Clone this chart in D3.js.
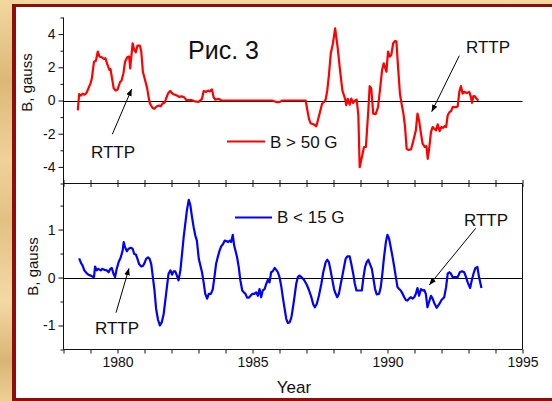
<!DOCTYPE html>
<html><head><meta charset="utf-8">
<script src="https://cdn.jsdelivr.net/npm/d3@7/dist/d3.min.js"></script>
<style>
html,body{margin:0;padding:0;background:#e6c88c;}
svg{display:block;font-family:"Liberation Sans",Arial,sans-serif;}
</style></head>
<body>
<svg id="chart" width="552" height="401"></svg>
<script>
// ---------- DATA ----------
const upperYears = [1978.53,1978.58,1978.65,1978.7,1978.78,1978.85,1979.0,1979.05,1979.13,1979.2,1979.27,1979.33,1979.42,1979.5,1979.55,1979.63,1979.7,1979.74,1979.8,1979.86,1979.93,1980.0,1980.1,1980.15,1980.22,1980.28,1980.36,1980.43,1980.47,1980.51,1980.56,1980.62,1980.68,1980.74,1980.83,1980.88,1980.94,1981.02,1981.1,1981.15,1981.2,1981.3,1981.36,1981.45,1981.54,1981.6,1981.67,1981.75,1981.8,1981.87,1981.95,1982.03,1982.1,1982.2,1982.28,1982.37,1982.47,1982.55,1982.75,1982.87,1983.0,1983.13,1983.19,1983.28,1983.35,1983.42,1983.5,1983.56,1983.62,1983.75,1983.85,1985.73,1985.9,1986.0,1986.1,1986.97,1987.02,1987.09,1987.15,1987.28,1987.36,1987.42,1987.5,1987.58,1987.65,1987.71,1987.77,1987.83,1987.9,1987.98,1988.06,1988.15,1988.24,1988.33,1988.43,1988.47,1988.53,1988.6,1988.66,1988.72,1988.79,1988.86,1988.92,1988.97,1989.05,1989.13,1989.2,1989.29,1989.34,1989.4,1989.47,1989.56,1989.65,1989.72,1989.8,1989.86,1989.92,1989.96,1990.02,1990.08,1990.14,1990.21,1990.28,1990.33,1990.39,1990.46,1990.52,1990.59,1990.65,1990.71,1990.77,1990.87,1990.93,1990.99,1991.05,1991.11,1991.17,1991.24,1991.3,1991.38,1991.44,1991.49,1991.55,1991.61,1991.67,1991.74,1991.8,1991.86,1991.93,1991.99,1992.05,1992.11,1992.17,1992.23,1992.3,1992.36,1992.41,1992.54,1992.6,1992.66,1992.72,1992.78,1992.84,1992.94,1993.03,1993.09,1993.13,1993.18,1993.24,1993.3,1993.37];
const upperValues = [-0.59,0.38,0.3,0.4,0.35,0.45,1.03,1.33,2.34,2.4,2.95,2.65,2.6,2.5,2.55,2.14,1.84,1.9,1.3,0.73,0.6,0.65,1.13,1.2,1.64,2.34,2.6,2.65,1.94,2.6,3.45,3.05,2.9,3.31,3.3,2.95,1.73,1.23,0.73,0.22,-0.18,-0.45,-0.5,-0.36,-0.3,-0.35,-0.18,-0.12,0.12,0.42,0.57,0.42,0.36,0.3,0.22,0.25,0.2,0.02,0.02,-0.05,-0.08,0.1,0.57,0.52,0.6,0.55,0.67,0.2,0.05,0.1,0.0,0.0,-0.1,-0.1,0.0,0.0,-0.48,-1.09,-1.37,-1.45,-1.56,-1.2,-0.69,-0.18,-0.09,0.05,0.62,1.53,2.85,3.45,4.34,3.25,1.84,0.6,0.1,-0.28,0.1,-0.25,0.12,-0.15,0.0,0.05,-0.89,-4.02,-3.42,-2.8,-2.8,-0.59,0.87,0.72,-0.79,-0.82,-0.4,0.62,1.84,2.24,1.94,1.73,2.95,2.64,2.74,3.45,3.59,3.55,2.04,0.42,-0.18,-0.79,-1.6,-2.91,-2.97,-2.95,-2.6,-2.2,-1.8,-0.79,-1.2,-2.0,-2.6,-2.8,-2.75,-3.52,-2.8,-1.9,-1.6,-1.7,-1.8,-1.44,-1.85,-1.6,-1.65,-1.55,-1.6,-0.89,-0.69,-0.63,-0.4,-0.4,-0.36,0.52,0.87,0.42,0.52,0.45,0.52,0.2,-0.14,0.26,0.25,0.1,0.0];

const lowerYears = [1978.58,1978.65,1978.71,1978.77,1978.86,1978.92,1979.01,1979.07,1979.13,1979.17,1979.23,1979.29,1979.38,1979.44,1979.52,1979.6,1979.67,1979.73,1979.79,1979.85,1979.91,1979.97,1980.04,1980.12,1980.19,1980.23,1980.28,1980.35,1980.41,1980.49,1980.56,1980.62,1980.68,1980.74,1980.8,1980.88,1980.94,1981.0,1981.06,1981.13,1981.19,1981.25,1981.31,1981.37,1981.43,1981.5,1981.57,1981.64,1981.71,1981.77,1981.83,1981.89,1981.96,1982.02,1982.08,1982.14,1982.2,1982.26,1982.33,1982.39,1982.45,1982.51,1982.57,1982.64,1982.7,1982.76,1982.82,1982.88,1982.94,1983.01,1983.07,1983.13,1983.19,1983.25,1983.32,1983.38,1983.46,1983.53,1983.59,1983.65,1983.71,1983.78,1983.84,1983.91,1983.97,1984.03,1984.1,1984.16,1984.21,1984.27,1984.32,1984.37,1984.43,1984.49,1984.55,1984.62,1984.68,1984.74,1984.8,1984.86,1984.93,1984.99,1985.07,1985.14,1985.2,1985.26,1985.32,1985.38,1985.45,1985.51,1985.57,1985.63,1985.69,1985.75,1985.82,1985.88,1985.94,1986.0,1986.07,1986.13,1986.19,1986.25,1986.31,1986.38,1986.44,1986.5,1986.56,1986.62,1986.68,1986.74,1986.81,1986.91,1987.01,1987.09,1987.18,1987.25,1987.31,1987.38,1987.46,1987.55,1987.62,1987.71,1987.77,1987.83,1987.89,1987.96,1988.02,1988.08,1988.14,1988.2,1988.27,1988.33,1988.39,1988.45,1988.51,1988.6,1988.66,1988.73,1988.79,1988.85,1988.95,1989.05,1989.11,1989.17,1989.23,1989.29,1989.35,1989.42,1989.48,1989.54,1989.6,1989.69,1989.75,1989.81,1989.87,1989.94,1990.0,1990.06,1990.12,1990.19,1990.25,1990.31,1990.37,1990.43,1990.49,1990.56,1990.62,1990.68,1990.74,1990.8,1990.86,1990.93,1990.99,1991.05,1991.11,1991.17,1991.24,1991.3,1991.36,1991.42,1991.48,1991.55,1991.61,1991.67,1991.73,1991.82,1991.92,1992.0,1992.1,1992.17,1992.23,1992.29,1992.35,1992.41,1992.5,1992.6,1992.68,1992.76,1992.84,1992.91,1992.97,1993.06,1993.12,1993.19,1993.26,1993.33,1993.39,1993.48];
const lowerValues = [0.4,0.3,0.25,0.15,0.09,0.06,0.04,0.02,0.01,0.23,0.15,0.18,0.15,0.18,0.16,0.15,0.11,0.18,0.2,0.08,0.01,0.18,0.32,0.42,0.56,0.74,0.63,0.55,0.6,0.62,0.6,0.49,0.48,0.39,0.28,0.23,0.24,0.3,0.39,0.42,0.39,0.28,0.01,-0.27,-0.65,-0.88,-1.0,-0.93,-0.76,-0.48,-0.2,0.08,0.15,0.06,0.13,0.13,0.04,-0.06,0.15,0.49,0.84,1.12,1.4,1.62,1.5,1.26,1.05,0.88,0.77,0.39,0.25,0.11,-0.1,-0.34,-0.44,-0.34,-0.34,-0.24,0.01,0.28,0.42,0.56,0.65,0.7,0.77,0.76,0.74,0.77,0.74,0.89,0.67,0.56,0.42,0.22,-0.06,-0.27,-0.31,-0.34,-0.42,-0.42,-0.38,-0.34,-0.34,-0.31,-0.38,-0.24,-0.41,-0.27,-0.24,-0.13,-0.05,-0.1,0.11,0.13,0.2,0.16,0.11,0.01,-0.2,-0.44,-0.65,-0.86,-0.95,-0.93,-0.83,-0.62,-0.38,-0.13,0.01,0.04,0.01,-0.05,-0.15,-0.26,-0.41,-0.56,-0.62,-0.55,-0.38,-0.13,0.11,0.32,0.37,0.32,0.15,-0.06,-0.24,-0.34,-0.41,-0.34,-0.13,0.04,0.22,0.39,0.44,0.44,0.28,0.08,-0.13,-0.27,-0.27,-0.27,0.01,0.22,0.32,0.37,0.28,0.18,-0.03,-0.24,-0.35,-0.34,-0.2,0.08,0.42,0.74,0.89,0.81,0.63,0.42,0.22,0.01,-0.2,-0.24,-0.27,-0.34,-0.41,-0.47,-0.48,-0.44,-0.41,-0.44,-0.41,-0.34,-0.22,-0.38,-0.24,-0.27,-0.26,-0.34,-0.62,-0.49,-0.38,-0.44,-0.53,-0.63,-0.55,-0.47,-0.41,-0.2,0.08,0.11,0.08,0.01,0.01,0.01,0.11,0.13,0.11,0.01,-0.1,-0.22,-0.06,0.09,0.2,0.22,0.01,-0.22];

const xMajorTicks = [1980,1985,1990,1995];
const upperYTicks = [-4,-2,0,2,4];
const upperYMinor = [-5,-3,-1,1,3,5];
const lowerYTicks = [-1,0,1];
const lowerYMinor = [-1.5,-0.5,0.5,1.5];
const upperLegend = "B > 50 G";
const lowerLegend = "B < 15 G";
const yLabel = "B, gauss";
const xLabel = "Year";
const title = "Рис. 3";
const noteLabel = "RTTP";

// ---------- LAYOUT ----------
const svg = d3.select("#chart");
const L = 63.5, R = 522.5;
const uTop = 17.5, mid = 183.5, lBot = 349.5;

// background texture (decorative)
const defs = svg.append("defs");
const g1 = defs.append("linearGradient").attr("id","tex").attr("x1",0).attr("y1",0).attr("x2",0).attr("y2",1);
[["0%","#f0d8a0"],["20%","#dcb877"],["40%","#efd29a"],["55%","#e2c183"],["75%","#f2d9a4"],["90%","#d9b574"],["100%","#ecd096"]]
  .forEach(s=>g1.append("stop").attr("offset",s[0]).attr("stop-color",s[1]));
svg.append("rect").attr("width",552).attr("height",401).attr("fill","url(#tex)");
svg.append("rect").attr("x",12).attr("y",4).attr("width",545).attr("height",400).attr("fill","#8e0d0d");
svg.append("rect").attr("x",16).attr("y",7).attr("width",540).attr("height",391).attr("fill","#ffffff");

const x = d3.scaleLinear().domain([1978,1995]).range([L,R]);
const yU = d3.scaleLinear().domain([-5,5]).range([mid, uTop]);
const yL = d3.scaleLinear().domain([-1.5,1.96]).range([lBot, mid]);

const years = d3.range(1978,1996);
const ink = "#111";

function yAxis(scale, major, minor, fmt){
  const gm = svg.append("g").attr("transform",`translate(${L},0)`)
    .call(d3.axisLeft(scale).tickValues(major).tickSize(5).tickSizeOuter(0).tickPadding(3).tickFormat(fmt));
  gm.select(".domain").remove();
  gm.selectAll("text").attr("font-size",14).attr("fill",ink).attr("font-family","Liberation Sans, Arial, sans-serif");
  gm.selectAll("line").attr("stroke",ink);
  const gn = svg.append("g").attr("transform",`translate(${L},0)`)
    .call(d3.axisLeft(scale).tickValues(minor).tickSize(3).tickFormat(""));
  gn.select(".domain").remove();
  gn.selectAll("line").attr("stroke",ink);
}
const fmtInt = d => d3.format("d")(d).replace("−","-");
yAxis(yU, upperYTicks, upperYMinor, fmtInt);
yAxis(yL, lowerYTicks, lowerYMinor, fmtInt);

// spines
svg.append("line").attr("x1",L).attr("x2",L).attr("y1",uTop).attr("y2",lBot).attr("stroke",ink);
svg.append("line").attr("x1",L).attr("x2",R).attr("y1",mid).attr("y2",mid).attr("stroke",ink);
svg.append("line").attr("x1",L).attr("x2",R).attr("y1",lBot).attr("y2",lBot).attr("stroke",ink);
svg.append("line").attr("x1",R).attr("x2",R).attr("y1",mid).attr("y2",lBot).attr("stroke",ink);

// x ticks: middle line both directions, bottom outward with labels
const gMidDown = svg.append("g").attr("transform",`translate(0,${mid})`)
  .call(d3.axisBottom(x).tickValues(years).tickSize(3.5).tickFormat(""));
gMidDown.select(".domain").remove();
const gMidUp = svg.append("g").attr("transform",`translate(0,${mid})`)
  .call(d3.axisTop(x).tickValues(years).tickSize(3.5).tickFormat(""));
gMidUp.select(".domain").remove();
const gBot = svg.append("g").attr("transform",`translate(0,${lBot})`)
  .call(d3.axisBottom(x).tickValues(years).tickSize(4).tickPadding(4)
  .tickFormat(d => xMajorTicks.includes(d) ? d3.format("d")(d) : ""));
gBot.select(".domain").remove();
gBot.selectAll("text").attr("font-size",14).attr("fill",ink).attr("font-family","Liberation Sans, Arial, sans-serif");
svg.selectAll(".tick line").attr("stroke",ink);

// zero lines
svg.append("line").attr("x1",L).attr("x2",R).attr("y1",Math.round(yU(0))+0.5).attr("y2",Math.round(yU(0))+0.5).attr("stroke","#000");
svg.append("line").attr("x1",L).attr("x2",R).attr("y1",Math.round(yL(0))+0.5).attr("y2",Math.round(yL(0))+0.5).attr("stroke","#000");

// series
const upperData = upperYears.map((t,i)=>[t,upperValues[i]]);
const lowerData = lowerYears.map((t,i)=>[t,lowerValues[i]]);
svg.append("path").datum(upperData).attr("fill","none").attr("stroke","#ff0000").attr("stroke-width",2.2)
  .attr("stroke-linejoin","round").attr("d",d3.line().x(d=>x(d[0])).y(d=>yU(d[1])));
svg.append("path").datum(lowerData).attr("fill","none").attr("stroke","#0000ff").attr("stroke-width",2.2)
  .attr("stroke-linejoin","round").attr("d",d3.line().x(d=>x(d[0])).y(d=>yL(d[1])));

// text
const txt = (s,xp,yp,size,anchor="start") => svg.append("text").attr("x",xp).attr("y",yp)
  .attr("font-size",size).attr("fill",ink).attr("text-anchor",anchor).text(s);
txt(title,188,59,25);
txt(xLabel,294,393,17,"middle");
svg.append("text").attr("transform","translate(32,82.5) rotate(-90)").attr("text-anchor","middle")
  .attr("font-size",15).attr("fill",ink).text(yLabel);
svg.append("text").attr("transform","translate(38,266.5) rotate(-90)").attr("text-anchor","middle")
  .attr("font-size",15).attr("fill",ink).text(yLabel);

// legends
svg.append("line").attr("x1",227).attr("x2",265).attr("y1",141.5).attr("y2",141.5).attr("stroke","#ff0000").attr("stroke-width",2.2);
txt(upperLegend,270,147.5,17);
svg.append("line").attr("x1",235).attr("x2",272).attr("y1",217.5).attr("y2",217.5).attr("stroke","#0000ff").attr("stroke-width",2.2);
txt(lowerLegend,277,222.5,17);

// RTTP notes with arrows
defs.append("marker").attr("id","ah").attr("viewBox","0 0 10 10").attr("refX",10).attr("refY",5)
  .attr("markerWidth",7).attr("markerHeight",7).attr("markerUnits","userSpaceOnUse").attr("orient","auto")
  .append("path").attr("d","M0,1 L10,5 L0,9 Z").attr("fill","#000");
const arrow = (x1,y1,x2,y2) => svg.append("line").attr("x1",x1).attr("y1",y1).attr("x2",x2).attr("y2",y2)
  .attr("stroke","#000").attr("stroke-width",1).attr("marker-end","url(#ah)");
txt(noteLabel,91,158,17); arrow(112.3,134.3,131.7,89);
txt(noteLabel,466,52.5,17); arrow(459.3,55.7,431.7,111.7);
txt(noteLabel,95,334,17); arrow(116,312.7,129,268.3);
txt(noteLabel,464,225.5,17); arrow(475.7,228.3,429.3,285);
</script>
</body></html>
